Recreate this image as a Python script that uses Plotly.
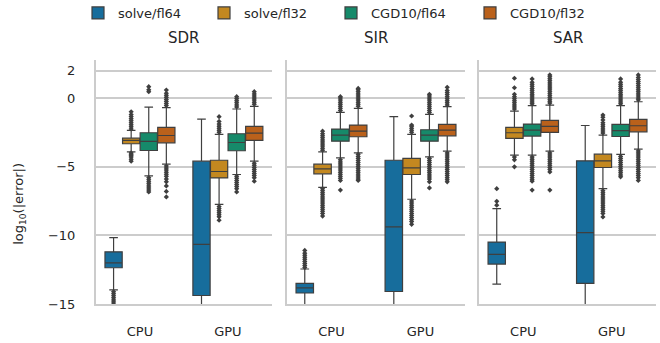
import plotly.graph_objects as go

# ---------------- data ----------------
metrics = ["SDR", "SIR", "SAR"]
devices = ["CPU", "GPU"]
methods = ["solve/fl64", "solve/fl32", "CGD10/fl64", "CGD10/fl32"]
colors = ["#176d9c", "#c38820", "#168a6a", "#ba611b"]
y_ticks = [2, 0, -5, -10, -15]

# order in each list: CPU (4 methods), then GPU (4 methods)
SDR_q1 = [-12.36, -3.33, -3.82, -3.26, -14.38, -5.82, -3.84, -3.09]
SDR_med = [-12.0, -3.09, -3.16, -2.73, -10.66, -5.35, -3.24, -2.55]
SDR_q3 = [-11.2, -2.92, -2.53, -2.14, -4.6, -4.53, -2.6, -2.07]
SDR_lo = [-13.97, -3.92, -5.67, -4.82, -15.5, -7.74, -5.57, -4.6]
SDR_hi = [-10.17, -2.35, -0.66, -0.7, -1.53, -2.65, -0.8, -0.61]
SDR_out = [
    [-14.1, -14.25, -14.4, -14.55, -14.7, -14.85, -15.0],
    [-2.25, -2.1, -1.95, -1.8, -1.65, -1.5, -1.35, -1.2, -1.0, -4.0, -4.1, -4.2, -4.3, -4.45, -4.6],
    [0.46, 0.6, 0.83, -5.8, -5.95, -6.1, -6.25, -6.4, -6.55, -6.7, -6.84],
    [-0.55, -0.4, -0.25, -0.1, 0.05, 0.2, 0.35, 0.58, -4.95, -5.1, -5.25, -5.4, -5.55, -5.7, -5.9, -6.1, -6.4, -6.8, -7.2],
    [],
    [-2.5, -2.35, -2.2, -2.05, -1.9, -1.7, -1.36, -7.9, -8.05, -8.2, -8.35, -8.5, -8.65, -8.9],
    [-0.65, -0.5, -0.35, -0.2, -0.05, 0.1, -5.7, -5.85, -6.0, -6.15, -6.3, -6.45, -6.6, -6.84],
    [-0.45, -0.3, -0.15, 0.0, 0.15, 0.3, 0.46, -4.75, -4.9, -5.05, -5.2, -5.35, -5.5, -5.65, -5.8, -6.06],
]

SIR_q1 = [-14.2, -5.52, -3.14, -2.82, -14.09, -5.57, -3.14, -2.75]
SIR_med = [-13.82, -5.16, -2.7, -2.41, -9.39, -5.09, -2.7, -2.34]
SIR_q3 = [-13.5, -4.82, -2.26, -1.97, -4.53, -4.4, -2.31, -1.92]
SIR_lo = [-15.5, -6.5, -4.36, -3.99, -15.5, -7.37, -4.28, -3.87]
SIR_hi = [-12.45, -3.92, -1.05, -0.75, -1.36, -2.65, -1.19, -0.63]
SIR_out = [
    [-12.35, -12.2, -12.05, -11.9, -11.75, -11.6, -11.45, -11.3, -11.1],
    [-3.8, -3.65, -3.5, -3.35, -3.2, -3.05, -2.9, -2.75, -2.6, -2.41,
     -6.6, -6.75, -6.9, -7.05, -7.2, -7.35, -7.5, -7.65, -7.8, -7.95, -8.1, -8.25, -8.4, -8.6],
    [-0.9, -0.75, -0.6, -0.45, -0.3, -0.15, 0.0, 0.1,
     -4.5, -4.65, -4.8, -4.95, -5.1, -5.25, -5.4, -5.55, -5.7, -5.85, -6.0, -6.7],
    [-0.6, -0.45, -0.3, -0.15, 0.0, 0.15, 0.3, 0.45, 0.6, 0.7,
     -4.1, -4.25, -4.4, -4.55, -4.7, -4.85, -5.0, -5.15, -5.3, -5.45, -5.6, -5.75, -5.9, -6.0],
    [],
    [-2.5, -2.35, -2.2, -2.05, -1.97, -1.31,
     -7.5, -7.65, -7.8, -7.95, -8.1, -8.25, -8.4, -8.55, -8.7, -8.85, -9.0, -9.2],
    [-1.05, -0.9, -0.75, -0.6, -0.45, -0.3, -0.15, 0.0, 0.15, 0.27,
     -4.4, -4.55, -4.7, -4.85, -5.0, -5.15, -5.3, -5.45, -5.6, -5.75, -5.9, -6.1, -6.55],
    [-0.5, -0.35, -0.2, -0.05, 0.1, 0.25, 0.4, 0.55, 0.78,
     -4.0, -4.15, -4.3, -4.45, -4.6, -4.75, -4.9, -5.05, -5.2, -5.35, -5.5, -5.65, -5.8, -5.95, -6.1],
]

SAR_q1 = [-12.09, -2.94, -2.77, -2.5, -13.5, -5.06, -2.8, -2.46]
SAR_med = [-11.39, -2.53, -2.34, -2.07, -9.8, -4.57, -2.38, -2.02]
SAR_q3 = [-10.49, -2.14, -1.9, -1.63, -4.57, -4.09, -1.92, -1.56]
SAR_lo = [-13.55, -4.16, -4.16, -3.87, -15.5, -6.6, -4.11, -3.72]
SAR_hi = [-8.05, -0.95, -0.56, -0.51, -2.0, -2.7, -0.56, -0.27]
SAR_out = [
    [-7.8, -7.52, -6.6],
    [1.44, 0.75, 0.27, 0.1, -0.05, -0.2, -0.35, -0.5, -0.65, -0.8, -4.3, -4.5, -5.01],
    [-0.42, -0.28, -0.14, 0.0, 0.14, 0.28, 0.42, 0.56, 0.7, 0.85, 1.0, 1.15, 1.39,
     -4.3, -4.45, -4.6, -4.75, -4.9, -5.05, -5.2, -5.35, -5.5, -5.65, -5.8, -5.95, -6.06, -6.7],
    [-0.37, -0.23, -0.09, 0.05, 0.2, 0.35, 0.5, 0.65, 0.8, 0.95, 1.1, 1.25, 1.4, 1.55, 1.68,
     -4.0, -4.15, -4.3, -4.45, -4.6, -4.75, -4.9, -5.05, -5.2, -5.38, -6.7],
    [],
    [-2.55, -2.4, -2.25, -2.1, -1.95, -1.8, -1.6, -1.4, -1.24,
     -6.75, -6.9, -7.05, -7.2, -7.35, -7.5, -7.65, -7.8, -7.95, -8.1, -8.25, -8.4, -8.66],
    [-0.42, -0.28, -0.14, 0.0, 0.14, 0.28, 0.42, 0.56, 0.7, 0.85, 1.0, 1.15, 1.39,
     -4.25, -4.4, -4.55, -4.7, -4.85, -5.0, -5.15, -5.3, -5.45, -5.6, -5.74],
    [-0.13, 0.0, 0.15, 0.3, 0.45, 0.6, 0.75, 0.9, 1.05, 1.2, 1.35, 1.5, 1.68,
     -3.85, -4.0, -4.15, -4.3, -4.45, -4.6, -4.75, -4.9, -5.05, -5.2, -5.35, -5.5, -5.65, -5.8, -6.0],
]

stats = {
    "SDR": (SDR_q1, SDR_med, SDR_q3, SDR_lo, SDR_hi, SDR_out),
    "SIR": (SIR_q1, SIR_med, SIR_q3, SIR_lo, SIR_hi, SIR_out),
    "SAR": (SAR_q1, SAR_med, SAR_q3, SAR_lo, SAR_hi, SAR_out),
}

# ---------------- figure ----------------
TEXT = "#262626"
GRID = "#cccccc"
EDGE = "#3f3f3f"
FONT = "DejaVu Sans"

domains = [[0.0, 0.314], [0.341, 0.659], [0.684, 1.0]]
legend_x_px = [78, 204, 331, 470]   # left edge of each legend entry
hue_w = 0.8 / len(methods)

fig = go.Figure()
for p, m in enumerate(metrics):
    q1, med, q3, lo, hi, out = stats[m]
    xa = "x" if p == 0 else f"x{p+1}"
    ya = "y" if p == 0 else f"y{p+1}"
    for d_i, dev in enumerate(devices):
        for h, meth in enumerate(methods):
            k = d_i * len(methods) + h
            pos = d_i + (h - (len(methods) - 1) / 2) * hue_w
            fig.add_trace(go.Box(
                x=[pos], q1=[q1[k]], median=[med[k]], q3=[q3[k]],
                lowerfence=[lo[k]], upperfence=[hi[k]],
                width=hue_w * 0.98, whiskerwidth=0.5,
                fillcolor=colors[h], line=dict(color=EDGE, width=1.2),
                name=meth, legendgroup=meth,
                legend="legend" if h == 0 else f"legend{h+1}",
                showlegend=(p == 0 and d_i == 0),
                xaxis=xa, yaxis=ya, hoverinfo="skip",
            ))
            if out[k]:
                fig.add_trace(go.Scatter(
                    x=[pos] * len(out[k]), y=out[k], mode="markers",
                    marker=dict(symbol="diamond", size=4, color=EDGE,
                                line=dict(width=0)),
                    showlegend=False, xaxis=xa, yaxis=ya, hoverinfo="skip",
                ))

layout = dict(
    width=660, height=343,
    margin=dict(l=96, r=4, t=60, b=39, autoexpand=False),
    paper_bgcolor="white", plot_bgcolor="white",
    font=dict(family=FONT, size=13, color=TEXT),
    showlegend=True,
)
for h in range(len(methods)):
    key = "legend" if h == 0 else f"legend{h+1}"
    layout[key] = dict(
        orientation="h", xref="container", x=legend_x_px[h] / 660,
        xanchor="left", yref="container", y=1 - 13 / 343, yanchor="middle",
        font=dict(size=13, color=TEXT), itemwidth=30,
        bgcolor="rgba(0,0,0,0)",
    )

annotations = []
for p, m in enumerate(metrics):
    sfx = "" if p == 0 else str(p + 1)
    layout[f"xaxis{sfx}"] = dict(
        domain=domains[p], range=[-0.5, 1.5],
        tickvals=list(range(len(devices))), ticktext=devices,
        showgrid=False, zeroline=False, showline=True, automargin=False,
        linecolor=GRID, linewidth=2, ticks="", ticklabelstandoff=14,
        tickfont=dict(size=13, color=TEXT), anchor=f"y{sfx}",
    )
    layout[f"yaxis{sfx}"] = dict(
        range=[-15, 2.77], tickvals=y_ticks, automargin=False,
        showgrid=True, gridcolor=GRID, gridwidth=1.6,
        zeroline=False, showline=True, linecolor=GRID, linewidth=2,
        ticks="", showticklabels=(p == 0), ticklabelstandoff=16,
        tickfont=dict(size=13, color=TEXT), anchor=f"x{sfx}",
        **({} if p == 0 else {"matches": "y"}),
    )
    annotations.append(dict(
        text=m, x=sum(domains[p]) / 2, xref="paper", y=1.0, yref="paper",
        xanchor="center", yanchor="bottom", yshift=11, showarrow=False,
        font=dict(size=15, color=TEXT, family=FONT),
    ))
annotations.append(dict(
    text="log<sub>10</sub>(|error|)", x=-0.136, xref="paper",
    y=0.41, yref="paper", textangle=-90, showarrow=False,
    xanchor="center", yanchor="middle",
    font=dict(size=13, color=TEXT, family=FONT),
))
layout["annotations"] = annotations
fig.update_layout(**layout)

fig.write_html("out.html", config={"displayModeBar": False},
               post_script="document.body.style.margin='0';")
